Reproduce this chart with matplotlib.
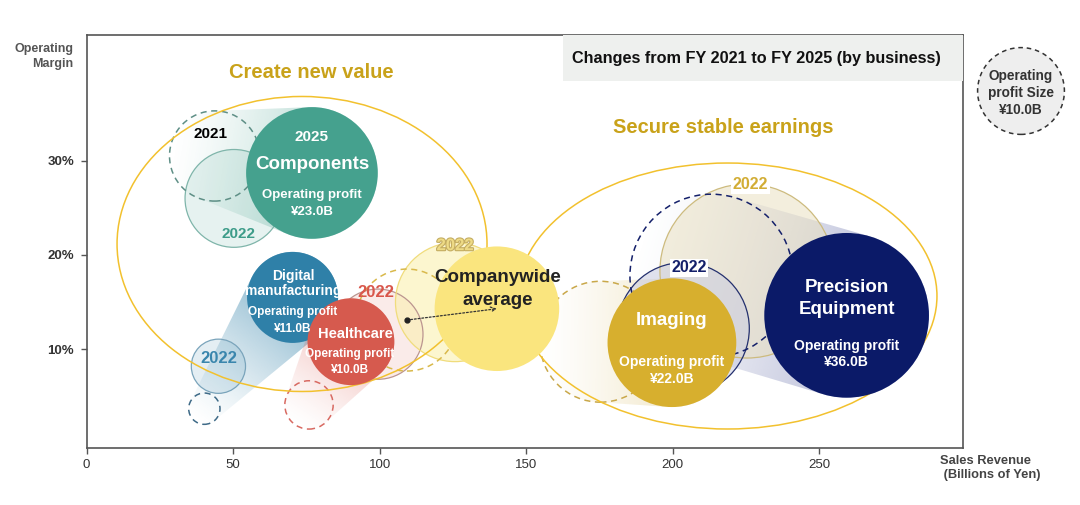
import numpy as np
import matplotlib
matplotlib.use("Agg")
import matplotlib.pyplot as plt
from matplotlib.patches import Ellipse, Polygon, Rectangle
from matplotlib.colors import to_rgb
import matplotlib.patheffects as pe

plt.rcParams['font.family'] = ['Liberation Sans', 'DejaVu Sans']

# values (sales in billions of yen, margin in %, profit in billions of yen)
businesses = ['Components', 'Digital manufacturing', 'Healthcare',
              'Companywide average', 'Imaging', 'Precision Equipment']
sales_2021 = [43.7, 40.2, 75.9, 109.3, 175.3, 213.2]
margin_2021 = [30.5, 3.7, 4.1, 13.1, 10.8, 17.8]
profit_2021 = [10.8, 1.3, 3.1, 13.8, 19.4, 35.3]
sales_2022 = [50.3, 45.0, 99.4, 125.7, 225.3, 203.6]
margin_2022 = [26.0, 8.2, 11.6, 15.0, 18.3, 12.2]
profit_2022 = [12.7, 3.9, 10.8, 18.8, 40.2, 23.1]
sales_2025 = [76.9, 70.3, 90.2, 140.0, 199.7, 259.3]
margin_2025 = [28.7, 15.5, 10.8, 14.3, 10.7, 13.6]
profit_2025 = [23.0, 11.0, 10.0, 20.6, 22.0, 36.0]

x_ticks = [0, 50, 100, 150, 200, 250]
y_ticks = [10, 20, 30]
y_tick_labels = ['10%', '20%', '30%']

# styles
main_col = ['#45a18e', '#2f80a8', '#d65a4e', '#fae57e', '#d7af2e', '#0b1a68']
old_col = ['#5e8f86', '#3e6a87', '#d86a62', '#d9b94b', '#c9a84a', '#14206a']
fill22 = ['#45a18e', '#2f80a8', '#e07a70', '#fbf0b0', '#e9dfbd', '#c9cce0']
fill22_a = [0.13, 0.13, 0.15, 0.6, 0.5, 0.55]
edge22 = ['#7fb5aa', '#7aa4bb', '#bb9590', '#f0dc7c', '#cdbb7e', '#24306e']
trail_col = ['#45a18e', '#2f80a8', '#e07066', None, '#dcc171', '#7a82b5']
trail_a = [0.35, 0.55, 0.4, 0, 0.35, 0.45]
R10 = 43.4  # radius in pixels of a 10 bn yen bubble

fig = plt.figure(figsize=(10.8, 5.05), dpi=100)
ax = fig.add_axes([86.5 / 1080, 57 / 505, 876.5 / 1080, 413 / 505])
ax.set_xlim(0, 299)
ax.set_ylim(-0.47, 43.33)
ax.set_autoscale_on(False)

p0 = ax.transData.transform((0, 0))
p1 = ax.transData.transform((1, 1))
sx, sy = p1 - p0


def rad(p):
    return R10 * np.sqrt(p / 10)


def bubble(x, y, p, **kw):
    r = rad(p)
    e = Ellipse((x, y), 2 * r / sx, 2 * r / sy, **kw)
    ax.add_patch(e)
    return e


def trail(x1, y1, q1, x2, y2, q2, color, amax):
    P1 = ax.transData.transform((x1, y1))
    P2 = ax.transData.transform((x2, y2))
    r1, r2 = rad(q1), rad(q2)
    d = P2 - P1
    L = np.hypot(*d)
    u = d / L
    th = np.arctan2(d[1], d[0])
    phi = np.arccos((r1 - r2) / L)
    a1 = np.linspace(th + phi, th + 2 * np.pi - phi, 80)
    a2 = np.linspace(th - phi, th + phi, 80)
    pts = np.vstack([P1 + r1 * np.c_[np.cos(a1), np.sin(a1)],
                     P2 + r2 * np.c_[np.cos(a2), np.sin(a2)]])
    dp = ax.transData.inverted().transform(pts)
    poly = Polygon(dp, closed=True, facecolor='none', edgecolor='none')
    ax.add_patch(poly)
    xmin, ymin = dp.min(axis=0)
    xmax, ymax = dp.max(axis=0)
    gx, gy = np.meshgrid(np.linspace(xmin, xmax, 200), np.linspace(ymin, ymax, 200))
    disp = ax.transData.transform(np.c_[gx.ravel(), gy.ravel()])
    start = P1 - r1 * u
    t = ((disp - start) @ u) / np.hypot(*(P2 - start))
    t = np.clip(t, 0, 1).reshape(gx.shape)
    img = np.zeros(gx.shape + (4,))
    img[..., :3] = to_rgb(color)
    img[..., 3] = amax * t ** 1.3
    im = ax.imshow(img, extent=(xmin, xmax, ymin, ymax), origin='lower',
                   aspect='auto', zorder=1, interpolation='bilinear')
    im.set_clip_path(poly)


def label(x, y, dx, dy, s, size, color='white', weight='bold', **kw):
    ax.annotate(s, (x, y), xytext=(dx, -dy), textcoords='offset pixels',
                ha='center', va='center', fontsize=size, color=color,
                fontweight=weight, zorder=6, **kw)


# trails
for i in range(len(businesses)):
    if trail_col[i] is not None:
        trail(sales_2021[i], margin_2021[i], profit_2021[i],
              sales_2025[i], margin_2025[i], profit_2025[i], trail_col[i], trail_a[i])

# 2022 bubbles
for i in range(len(businesses)):
    bubble(sales_2022[i], margin_2022[i], profit_2022[i], facecolor=fill22[i],
           alpha=fill22_a[i], edgecolor='none', zorder=1.5)
    bubble(sales_2022[i], margin_2022[i], profit_2022[i], facecolor='none',
           edgecolor=edge22[i], lw=0.9, zorder=2)

# 2021 bubbles (dashed)
for i in range(len(businesses)):
    bubble(sales_2021[i], margin_2021[i], profit_2021[i], facecolor='none',
           edgecolor=old_col[i], lw=1.1, linestyle=(0, (4, 3)), zorder=2)

# group outlines
ax.add_patch(Ellipse((0.2459, 0.494), 0.4221, 0.7143, transform=ax.transAxes,
                     facecolor='none', edgecolor='#f2c12e', lw=1.1, zorder=2.5))
ax.add_patch(Ellipse((0.7313, 0.368), 0.478, 0.644, transform=ax.transAxes,
                     facecolor='none', edgecolor='#f2c12e', lw=1.1, zorder=2.5))

# 2025 bubbles
for i in range(len(businesses)):
    bubble(sales_2025[i], margin_2025[i], profit_2025[i], facecolor=main_col[i],
           edgecolor='none', zorder=3)

# companywide arrow 2021 -> 2025
ax.annotate('', xy=(sales_2025[3], margin_2025[3]), xytext=(sales_2021[3], margin_2021[3]),
            arrowprops=dict(arrowstyle='->', linestyle=(0, (1.5, 1.5)), color='#333333',
                            lw=0.9, shrinkA=0, shrinkB=0, mutation_scale=9), zorder=5)
ax.plot(sales_2021[3], margin_2021[3], 'o', color='#222222', ms=3.5, zorder=5)

# texts inside 2025 bubbles
x, y = sales_2025[0], margin_2025[0]
label(x, y, 0, -36, '2025', 11)
label(x, y, 0, -8.5, 'Components', 13.5)
label(x, y, 0, 22.5, 'Operating profit', 9.5)
label(x, y, 0, 39, '¥23.0B', 9.5)

x, y = sales_2025[1], margin_2025[1]
label(x, y, 0.5, -21.5, 'Digital', 10)
label(x, y, 0.5, -6, 'manufacturing', 10)
label(x, y, 0.5, 15, 'Operating profit', 8.5)
label(x, y, 0.5, 32, '¥11.0B', 8.5)

x, y = sales_2025[2], margin_2025[2]
label(x, y, 5, -7.5, 'Healthcare', 10.5)
label(x, y, -1, 12.5, 'Operating profit', 8.5)
label(x, y, -1, 28.5, '¥10.0B', 8.5)

x, y = sales_2025[3], margin_2025[3]
label(x, y, 0.5, -31.4, 'Companywide', 13.5, color='#222222')
label(x, y, 0.5, -8.7, 'average', 13.5, color='#222222')

x, y = sales_2025[4], margin_2025[4]
label(x, y, 0, -22.3, 'Imaging', 13.5)
label(x, y, 0, 19.4, 'Operating profit', 10)
label(x, y, 0, 36, '¥22.0B', 10)

x, y = sales_2025[5], margin_2025[5]
label(x, y, 0, -27.8, 'Precision', 13.5)
label(x, y, 0, -5.5, 'Equipment', 13.5)
label(x, y, 0, 30.2, 'Operating profit', 10)
label(x, y, 0, 46.8, '¥36.0B', 10)

# year labels
label(sales_2021[0], margin_2021[0], -4.5, -21.7, '2021', 11, color='black')
label(sales_2022[0], margin_2022[0], 4.3, 36, '2022', 11, color='#3d9c89')
label(sales_2022[1], margin_2022[1], 0.8, -7.7, '2022', 12, color='#3a86ad')
label(sales_2022[2], margin_2022[2], -2, -41.3, '2022', 12, color='#d9564b')
label(sales_2022[3], margin_2022[3], 0, -56.5, '2022', 12, color='#eedb86',
      path_effects=[pe.withStroke(linewidth=1.6, foreground='#c4ad62')])
label(sales_2022[5], margin_2022[5], 5.8, -60.7, '2022', 11.5, color='#14206a',
      bbox=dict(boxstyle='square,pad=0.1', fc='white', ec='none'))
label(sales_2022[4], margin_2022[4], 3.7, -86.5, '2022', 11.5, color='#d2ad35',
      bbox=dict(boxstyle='square,pad=0.1', fc='white', ec='none'))

# group titles and header box
ax.text(0.257, 0.909, 'Create new value', transform=ax.transAxes, ha='center', va='center',
        fontsize=14.5, fontweight='bold', color='#c9a21a', zorder=6)
ax.text(0.726, 0.775, 'Secure stable earnings', transform=ax.transAxes, ha='center',
        va='center', fontsize=14.5, fontweight='bold', color='#c9a21a', zorder=6)
ax.add_patch(Rectangle((0.5437, 0.8886), 0.4563, 0.1114, transform=ax.transAxes,
                       facecolor='#eef0ee', edgecolor='none', zorder=4))
ax.text(0.764, 0.944, 'Changes from FY 2021 to FY 2025 (by business)', transform=ax.transAxes,
        ha='center', va='center', fontsize=11.7, fontweight='bold', color='#111111', zorder=6)

# axes styling
ax.set_xticks(x_ticks)
ax.set_xticklabels([str(v) for v in x_ticks])
ax.set_yticks(y_ticks)
ax.set_yticklabels(y_tick_labels, fontweight='bold')
ax.tick_params(direction='out', length=4, width=1, color='#555555', labelcolor='#333333',
               labelsize=9.5)
ax.tick_params(axis='x', pad=4)
ax.tick_params(axis='y', pad=5)
for sp in ax.spines.values():
    sp.set_color('#555555')
    sp.set_linewidth(1.2)

fig.text(0.0676, 0.888, 'Operating\nMargin', ha='right', va='center', fontsize=9,
         fontweight='bold', color='#555555', linespacing=1.3)
fig.text(0.870, 0.0725, 'Sales Revenue\n (Billions of Yen)', ha='left', va='center',
         fontsize=9.3, fontweight='bold', color='#444444', linespacing=1.2)

# size legend
fig.add_artist(Ellipse((1021 / 1080, 1 - 91 / 505), 2 * R10 / 1080, 2 * R10 / 505,
                       transform=fig.transFigure, facecolor='#eeeeee', edgecolor='#333333',
                       lw=1.1, linestyle=(0, (3, 2.5))))
fig.text(1021 / 1080, 1 - 93 / 505, 'Operating\nprofit Size\n¥10.0B', ha='center', va='center',
         fontsize=9.8, fontweight='bold', color='#333333', linespacing=1.25)

fig.savefig('out.png', dpi=100)
